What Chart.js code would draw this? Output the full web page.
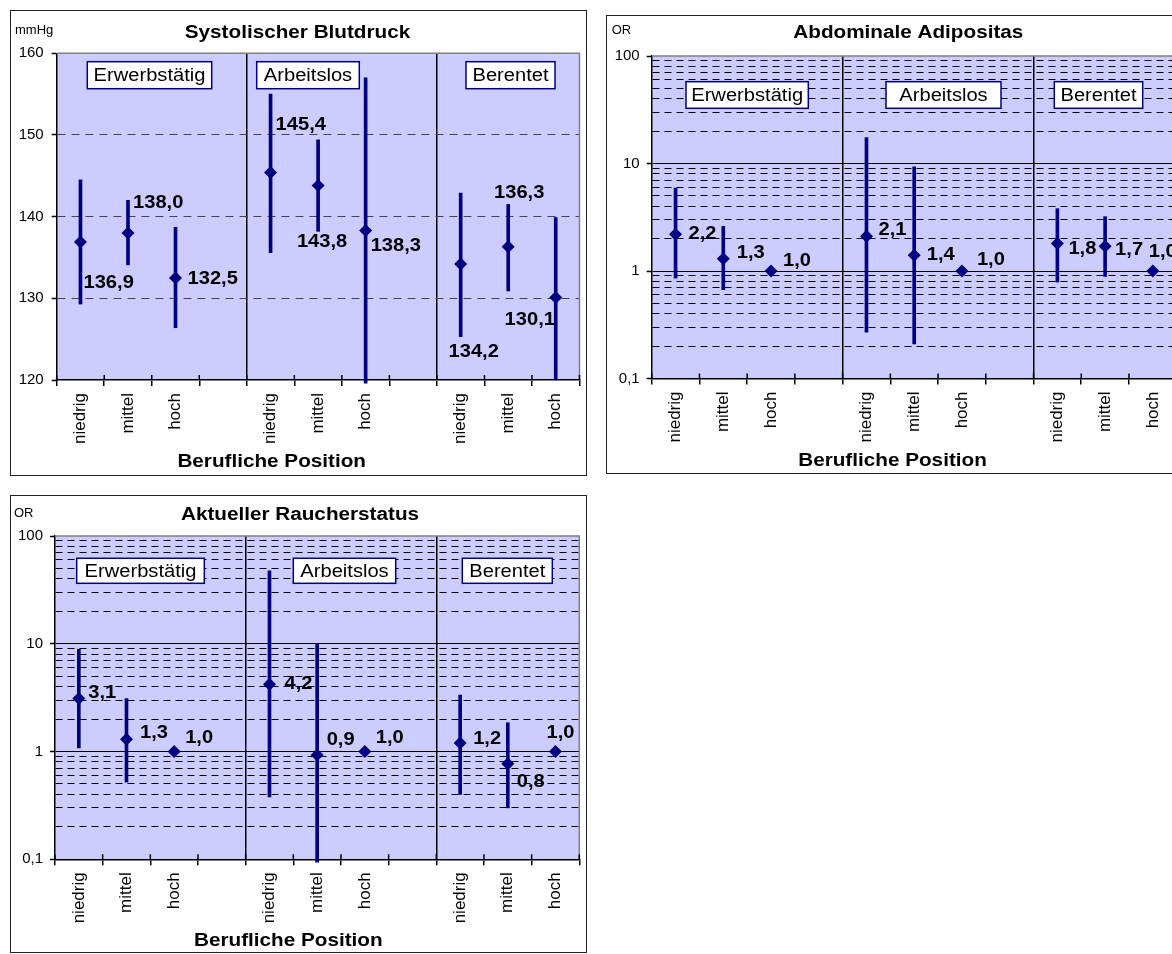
<!DOCTYPE html>
<html>
<head>
<meta charset="utf-8">
<script src="https://cdn.jsdelivr.net/npm/chart.js@4.4.1/dist/chart.umd.min.js"></script>
<style>
  html, body { margin: 0; padding: 0; background: #fff; overflow: hidden; }
  body { width: 1172px; height: 954px; position: relative; }
  .panel { position: absolute; border: 1px solid #222; background: #fff; overflow: hidden; }
  .panel canvas { display: block; }
</style>
</head>
<body>
<div class="panel" style="left:10px;top:10px;width:575px;height:464px"><canvas id="bpChart" width="575" height="464"></canvas></div>
<div class="panel" style="left:606px;top:15px;width:580px;height:457px"><canvas id="adiChart" width="580" height="457"></canvas></div>
<div class="panel" style="left:10px;top:495px;width:575px;height:456px"><canvas id="smokeChart" width="575" height="456"></canvas></div>
<script>
const positionLabels = ['niedrig', 'mittel', 'hoch', '', 'niedrig', 'mittel', 'hoch', '', 'niedrig', 'mittel', 'hoch'];
const groupNames = ['Erwerbstätig', 'Arbeitslos', 'Berentet'];

// Systolischer Blutdruck, mmHg (Mittelwert, 95%-KI)
const bpMean = [136.9, 138.0, 132.5, null, 145.4, 143.8, 138.3, null, 134.2, 136.3, 130.1];
const bpLow  = [129.3, 134.1, 126.4, null, 135.6, 138.2, 119.6, null, 125.3, 130.9, 120.0];
const bpHigh = [144.5, 142.0, 138.7, null, 155.0, 149.4, 157.0, null, 142.9, 141.5, 139.9];
const bpTicks = [120, 130, 140, 150, 160];

// Abdominale Adipositas, OR
const adiOR   = [2.2, 1.3, 1.0, null, 2.1, 1.4, 1.0, null, 1.8, 1.7, 1.0];
const adiLow  = [0.86, 0.67, null, null, 0.27, 0.21, null, null, 0.79, 0.89, null];
const adiHigh = [5.9, 2.6, null, null, 17.4, 9.3, null, null, 3.8, 3.2, null];

// Aktueller Raucherstatus, OR
const smokeOR   = [3.1, 1.3, 1.0, null, 4.2, 0.93, 1.0, null, 1.2, 0.77, 1.0];
const smokeLow  = [1.08, 0.52, null, null, 0.38, 0.094, null, null, 0.40, 0.30, null];
const smokeHigh = [8.9, 3.1, null, null, 47.6, 10.0, null, null, 3.34, 1.85, null];

// log axis ticks
const orTicks = [0.1, 0.2, 0.3, 0.4, 0.5, 0.6, 0.7, 0.8, 0.9,
                 1, 2, 3, 4, 5, 6, 7, 8, 9,
                 10, 20, 30, 40, 50, 60, 70, 80, 90, 100];
const orLabelledTicks = [0.1, 1, 10, 100];
const orTickLabels = ['0,1', '1', '10', '100'];

const NAVY = '#000080';
const FONT = "'Liberation Sans', Arial, sans-serif";
const STRETCH = 1.15; // the original's text is a bit wide
Chart.defaults.font.family = FONT;
Chart.defaults.color = '#000';

function fmt(v) { return v.toFixed(1).replace('.', ','); }
function isDecade(v) { return orLabelledTicks.indexOf(v) >= 0; }

function wideText(ctx, text, x, y, align) {
  ctx.save();
  ctx.translate(x, y);
  ctx.scale(STRETCH, 1);
  ctx.textAlign = align;
  ctx.fillText(text, 0, 0);
  ctx.restore();
}

const decor = {
  id: 'decor',
  beforeDraw(chart) {
    const { ctx, chartArea: a } = chart;
    ctx.save();
    ctx.fillStyle = '#ccccff';
    ctx.fillRect(a.left, a.top, a.right - a.left, a.bottom - a.top);
    ctx.restore();
  },
  beforeDatasetsDraw(chart, args, o) {
    const { ctx, chartArea: a } = chart;
    const xs = chart.scales.x;
    ctx.save();
    ctx.strokeStyle = '#808080';
    ctx.lineWidth = 1.5;
    ctx.beginPath();
    ctx.moveTo(a.left, a.top);
    ctx.lineTo(a.right, a.top);
    ctx.lineTo(a.right, a.bottom);
    ctx.stroke();

    // tick marks crossing into the plot, like the original
    ctx.strokeStyle = '#000';
    ctx.beginPath();
    for (let i = 0; i <= positionLabels.length; i++) {
      const px = xs.getPixelForValue(i - 0.5);
      if (px > a.right + 1) break;
      ctx.moveTo(px, a.bottom - 5);
      ctx.lineTo(px, a.bottom);
    }
    ctx.stroke();

    ctx.font = '17.5px ' + FONT;
    ctx.textBaseline = 'middle';
    o.groupBoxes.forEach((b, i) => {
      const x0 = a.left + b[0], x1 = a.left + b[1];
      const y0 = a.top + o.boxTop, h = o.boxHeight;
      ctx.fillStyle = '#fff';
      ctx.fillRect(x0, y0, x1 - x0, h);
      ctx.strokeStyle = NAVY;
      ctx.lineWidth = 1.5;
      ctx.strokeRect(x0, y0, x1 - x0, h);
      ctx.fillStyle = '#000';
      wideText(ctx, groupNames[i], (x0 + x1) / 2, y0 + h / 2 + 1, 'center');
    });
    ctx.restore();
  },
  afterDatasetsDraw(chart, args, o) {
    const { ctx } = chart;
    const meta = chart.getDatasetMeta(1);
    const values = chart.data.datasets[1].data;
    ctx.save();
    ctx.font = 'bold 17.5px ' + FONT;
    ctx.fillStyle = '#000';
    ctx.textBaseline = 'middle';
    meta.data.forEach((pt, i) => {
      const v = values[i];
      const off = o.valueLabels[i];
      if (v == null || !off) return;
      wideText(ctx, fmt(v), pt.x + off[0], pt.y + off[1], off[2] || 'left');
    });
    ctx.restore();
  },
  afterDraw(chart, args, o) {
    const { ctx, chartArea: a } = chart;
    ctx.save();
    ctx.fillStyle = '#000';
    ctx.textBaseline = 'middle';
    ctx.font = '13px ' + FONT;
    ctx.textAlign = 'left';
    ctx.fillText(o.unit, o.unitPos[0], o.unitPos[1]);
    ctx.font = 'bold 18px ' + FONT;
    wideText(ctx, o.title, o.titlePos[0], o.titlePos[1], 'center');
    wideText(ctx, 'Berufliche Position', a.left + o.axisTitlePos[0], a.bottom + o.axisTitlePos[1], 'center');
    ctx.restore();
  }
};

function makePanel(id, cfg) {
  const yLinear = {
    type: 'linear',
    min: cfg.min,
    max: cfg.max,
    afterBuildTicks: s => { s.ticks = cfg.ticks.map(v => ({ value: v })); },
    ticks: { autoSkip: false, padding: 8, color: '#000', font: { size: 15 }, callback: v => String(v) },
    grid: {
      color: c => {
        const v = c.tick ? c.tick.value : null;
        return (v == null || v === cfg.min || v === cfg.max) ? 'transparent' : '#444';
      },
      lineWidth: 1, tickColor: '#000', tickLength: 5, tickWidth: 1.5
    },
    border: { display: true, color: '#000', width: 1.5, dash: c => (c.tick ? [8, 6] : []) },
    afterFit: s => { s.width = cfg.area.left; }
  };
  const yLog = {
    type: 'logarithmic',
    min: 0.1,
    max: 100,
    afterBuildTicks: s => { s.ticks = orTicks.map(v => ({ value: v })); },
    ticks: {
      autoSkip: false, padding: 7, color: '#000', font: { size: 15 },
      callback: v => { const k = orLabelledTicks.indexOf(v); return k >= 0 ? orTickLabels[k] : ''; }
    },
    grid: {
      color: c => {
        const v = c.tick ? c.tick.value : null;
        return (v == null || v === 0.1 || v === 100) ? 'transparent' : '#000';
      },
      lineWidth: 1,
      tickColor: c => (c.tick && isDecade(c.tick.value)) ? '#000' : 'transparent',
      tickLength: 5, tickWidth: 1.5
    },
    border: { display: true, color: '#000', width: 1.5, dash: c => (c.tick && !isDecade(c.tick.value)) ? [7, 5] : [] },
    afterFit: s => { s.width = cfg.area.left; }
  };

  return new Chart(document.getElementById(id), {
    type: 'bar',
    data: {
      labels: positionLabels,
      datasets: [
        {
          type: 'bar',
          data: cfg.low.map((l, i) => (l == null ? null : [l, cfg.high[i]])),
          backgroundColor: NAVY,
          borderWidth: 0,
          barThickness: 3,
          order: 1,
          clip: false
        },
        {
          type: 'line',
          data: cfg.values,
          showLine: false,
          pointStyle: 'rectRot',
          pointRadius: 6.5,
          pointBackgroundColor: NAVY,
          pointBorderWidth: 0,
          order: 0,
          clip: false
        }
      ]
    },
    options: {
      responsive: false,
      animation: false,
      layout: { padding: { left: 0, top: cfg.area.top, right: cfg.area.right, bottom: 0 } },
      plugins: {
        legend: { display: false },
        tooltip: { enabled: false },
        title: { display: false },
        decor: cfg.decor
      },
      scales: {
        x: {
          type: 'category',
          offset: true,
          grid: {
            offset: true,
            color: c => (c.index === 4 || c.index === 8) ? '#000' : 'transparent',
            lineWidth: 1.5, tickColor: '#000', tickLength: 6, tickWidth: 1.5
          },
          border: { display: true, color: '#000', width: 1.5 },
          ticks: { autoSkip: false, minRotation: 90, maxRotation: 90, padding: 7, color: '#000', font: { size: 17 } },
          afterFit: s => { s.height = cfg.area.xHeight; }
        },
        y: cfg.log ? yLog : yLinear
      }
    },
    plugins: [decor]
  });
}

makePanel('bpChart', {
  values: bpMean, low: bpLow, high: bpHigh,
  min: 120, max: 160, ticks: bpTicks,
  area: { left: 45.7, top: 42.3, right: 4.3, xHeight: 95 },
  decor: {
    unit: 'mmHg', unitPos: [4, 19],
    title: 'Systolischer Blutdruck', titlePos: [286.5, 21.7],
    axisTitlePos: [215, 82],
    groupBoxes: [[30.6, 155], [200, 302.6], [409.3, 498.3]], boxTop: 8.4, boxHeight: 27,
    valueLabels: [[3, 41], [5, -30], [12, 1], null, [5, -47], [4, 57, 'center'], [5, 16], null,
                  [13, 88, 'center'], [11, -54, 'center'], [-26, 23, 'center']]
  }
});

makePanel('adiChart', {
  values: adiOR, low: adiLow, high: adiHigh, log: true,
  area: { left: 44.7, top: 40, right: 10.3, xHeight: 94.5 },
  decor: {
    unit: 'OR', unitPos: [4.7, 14.7],
    title: 'Abdominale Adipositas', titlePos: [301.3, 17.3],
    axisTitlePos: [240.8, 82.5],
    groupBoxes: [[34.3, 156.6], [234.3, 349.3], [402.6, 491]], boxTop: 25.7, boxHeight: 26.6,
    valueLabels: [[13, 0], [13.5, -5.5], [12, -10], null, [12, -6], [12.6, 0], [15, -11], null,
                  [11, 6], [10, 4], [-4, -18.5]]
  }
});

makePanel('smokeChart', {
  values: smokeOR, low: smokeLow, high: smokeHigh, log: true,
  area: { left: 44, top: 40, right: 6.7, xHeight: 92.7 },
  decor: {
    unit: 'OR', unitPos: [3, 17.3],
    title: 'Aktueller Raucherstatus', titlePos: [289, 19],
    axisTitlePos: [233.3, 82],
    groupBoxes: [[21.7, 149.3], [238.3, 340.7], [407.3, 497.3]], boxTop: 22.3, boxHeight: 25,
    valueLabels: [[9.5, -5], [13.5, -6], [11, -13], null, [15, 0], [9.5, -15], [11, -13], null,
                  [13, -4], [9, 18], [-9, -18]]
  }
});
</script>
</body>
</html>
